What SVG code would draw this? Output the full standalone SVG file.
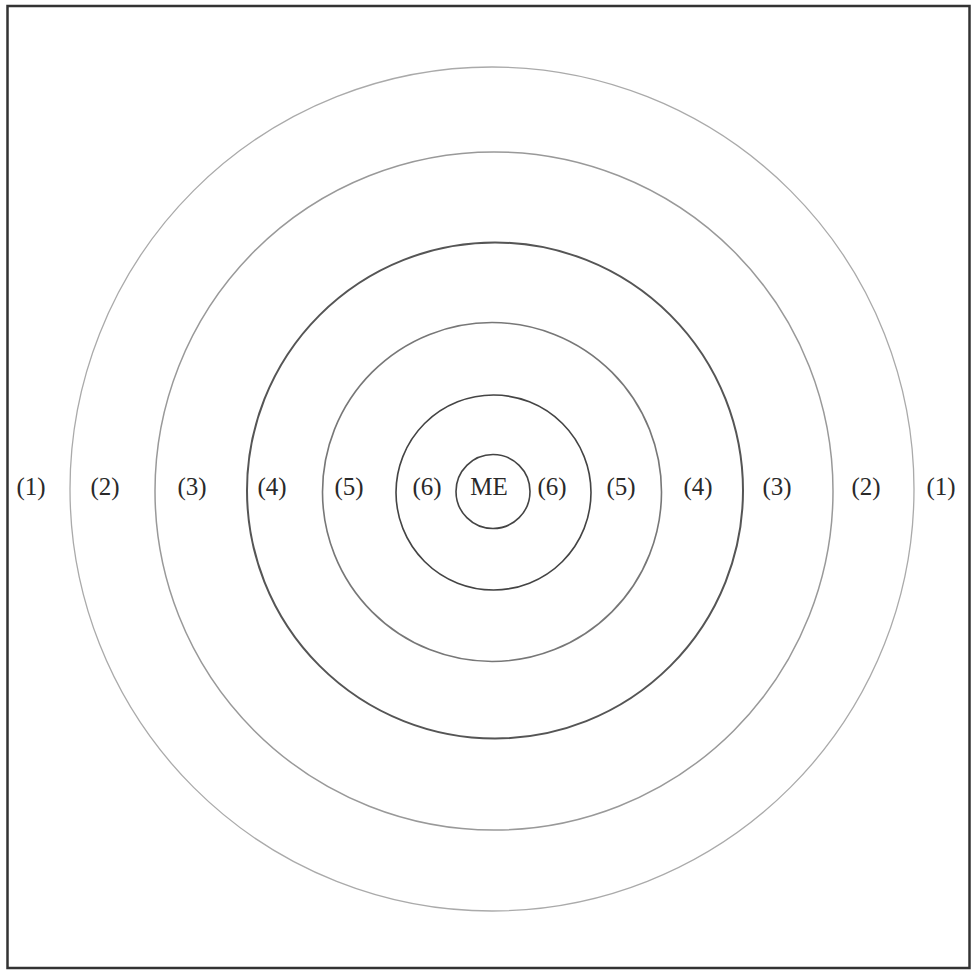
<svg xmlns="http://www.w3.org/2000/svg" width="972" height="973" viewBox="0 0 972 973">
<style>
.ring{fill:none}
.lbl{font-family:"Liberation Serif","Times New Roman",serif;font-size:25px;fill:#2a2a2a;text-anchor:middle}
</style>
<rect x="0" y="0" width="972" height="973" fill="#fff"/>
<rect x="7.5" y="6" width="962" height="962" fill="none" stroke="#333" stroke-width="2.5"/>
<g id="ring1"><circle class="ring" cx="492" cy="489" r="422" stroke="#aaa" stroke-width="1.3"/></g>
<g id="ring2"><circle class="ring" cx="494" cy="491" r="339" stroke="#999" stroke-width="1.5"/></g>
<g id="ring3"><circle class="ring" cx="495" cy="490.5" r="248" stroke="#555" stroke-width="2"/></g>
<g id="ring4"><circle class="ring" cx="492" cy="492" r="169.5" stroke="#777" stroke-width="1.6"/></g>
<g id="ring5"><circle class="ring" cx="493.5" cy="492.5" r="97.5" stroke="#444" stroke-width="1.6"/></g>
<g id="me"><circle class="ring" cx="493" cy="491.5" r="37" stroke="#444" stroke-width="1.6"/>
<text class="lbl" x="489" y="495">ME</text></g>
<g id="labels">
<text class="lbl" x="31" y="495">(1)</text>
<text class="lbl" x="105" y="495">(2)</text>
<text class="lbl" x="192" y="495">(3)</text>
<text class="lbl" x="272" y="495">(4)</text>
<text class="lbl" x="349" y="495">(5)</text>
<text class="lbl" x="427" y="495">(6)</text>
<text class="lbl" x="552" y="495">(6)</text>
<text class="lbl" x="621" y="495">(5)</text>
<text class="lbl" x="698" y="495">(4)</text>
<text class="lbl" x="777" y="495">(3)</text>
<text class="lbl" x="866" y="495">(2)</text>
<text class="lbl" x="941" y="495">(1)</text>
</g>
</svg>
